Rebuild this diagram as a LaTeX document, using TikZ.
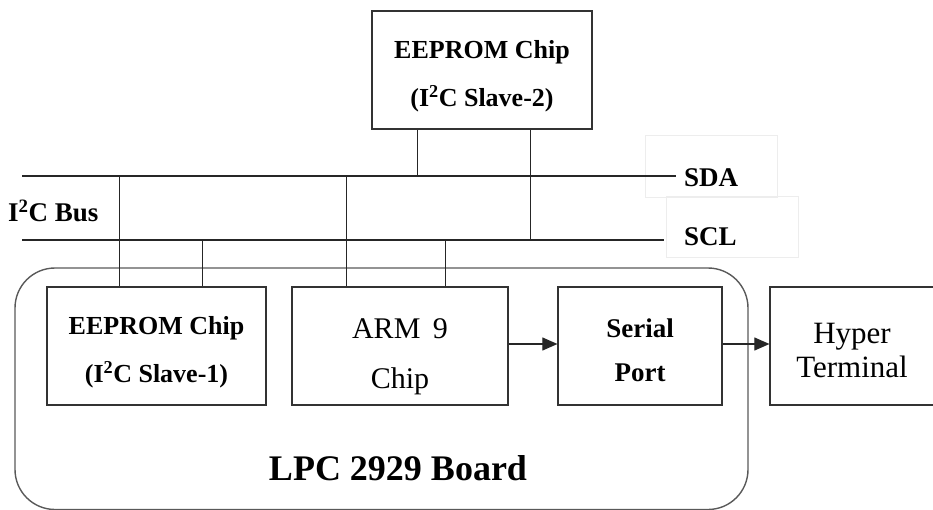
\documentclass[tikz,border=0pt]{standalone}
\usepackage{fontspec}
\setmainfont{Liberation Serif}
\usetikzlibrary{arrows.meta,calc}
\begin{document}
\begin{tikzpicture}[x=1pt,y=-1pt,
  box/.style={draw=black!80,line width=1.2pt,rectangle,minimum height=118pt,inner sep=0pt},
  txt/.style={align=center,inner sep=0pt},
  bl/.style={font=\fontsize{26}{48}\selectfont\bfseries},
  rl/.style={font=\fontsize{30}{50}\selectfont},
  sl/.style={font=\fontsize{27}{30}\selectfont\bfseries,anchor=west,inner sep=0pt},
  wire/.style={draw=black!85,line width=1.1pt},
  arr/.style={wire,-{Triangle[length=15pt,width=13pt]}},
  faint/.style={draw=black!7,line width=1pt,rectangle,inner sep=0pt}]
\useasboundingbox (0,0) rectangle (933,510);
% board
\draw[draw=black!65,line width=1.4pt,rounded corners=40pt] (15,268) rectangle (748,509.5);
\node[font=\fontsize{36}{40}\selectfont\bfseries] (board) at (398,468) {LPC 2929 Board};
% faint label boxes
\node[faint,minimum width=132pt,minimum height=62pt] (sdabox) at (711,167) {};
\node[faint,minimum width=132pt,minimum height=61pt] (sclbox) at (732,227.5) {};
\node[sl] (sda) at (684,178) {SDA};
\node[sl] (scl) at (684,237) {SCL};
\node[sl] (bus) at (8,211) {I\textsuperscript{2}C Bus};
% bus lines
\coordinate (sdaL) at (22,176);
\coordinate (sclL) at (22,240);
\draw[wire] (sdaL) -- ($(sda.west)+(-8,-2)$);
\draw[wire] (sclL) -- ($(scl.west)+(-20,3)$);
% boxes
\node[box,minimum width=220pt] (top) at (482,70) {};
\node[box,minimum width=219pt] (s1) at (156.5,346) {};
\node[box,minimum width=216pt] (arm) at (400,346) {};
\node[box,minimum width=164pt] (ser) at (640,346) {};
\node[box,minimum width=164pt] (hyp) at (852,346) {};
% box texts
\node[txt,bl] (topt) at ($(top)+(0,6)$) {EEPROM Chip\\(I\textsuperscript{2}C Slave-2)};
\node[txt,bl] (s1t) at ($(s1)+(0,6)$) {EEPROM Chip\\(I\textsuperscript{2}C Slave-1)};
\node[txt,rl] (armt) at ($(arm)+(0,11)$) {ARM\, 9\\Chip};
\node[txt,font=\fontsize{27}{44}\selectfont\bfseries] (sert) at ($(ser)+(0,4)$) {Serial\\Port};
\node[txt,font=\fontsize{31}{34}\selectfont] (hypt) at ($(hyp)+(0,5)$) {Hyper\\Terminal};
% bus taps
\draw[wire] ($(top.south west)+(46,0)$) coordinate (t1) -- (t1 |- sdaL);
\draw[wire] ($(top.south west)+(159,0)$) coordinate (t2) -- (t2 |- sclL);
\draw[wire] ($(s1.north west)+(73,0)$) coordinate (a1) -- (a1 |- sdaL);
\draw[wire] ($(s1.north west)+(156,0)$) coordinate (a2) -- (a2 |- sclL);
\draw[wire] ($(arm.north west)+(55,0)$) coordinate (b1) -- (b1 |- sdaL);
\draw[wire] ($(arm.north west)+(154,0)$) coordinate (b2) -- (b2 |- sclL);
% arrows
\draw[arr] ($(arm.east)+(0,-2)$) -- ($(ser.west)+(0,-2)$);
\draw[arr] ($(ser.east)+(0,-2)$) -- ($(hyp.west)+(0,-2)$);
\end{tikzpicture}
\end{document}
